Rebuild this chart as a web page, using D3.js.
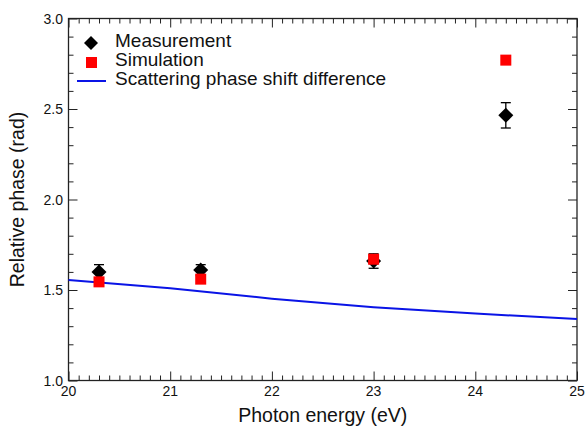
<!DOCTYPE html>
<html>
<head>
<meta charset="utf-8">
<script src="https://cdn.jsdelivr.net/npm/d3@7"></script>
<style>
  html, body { margin: 0; padding: 0; background: #fff; }
  svg { display: block; font-family: "Liberation Sans", Arial, sans-serif; }
</style>
</head>
<body>
<svg id="chart" width="586" height="428"></svg>
<script>
// Photon energies (eV) of the measured / simulated points
const energies = [20.3, 21.3, 23.0, 24.3];
// Measured relative phase (rad) and its uncertainty
const measured = [1.60, 1.61, 1.66, 2.465];
const measuredErr = [0.04, 0.03, 0.04, 0.07];
// Simulated relative phase (rad)
const simulated = [1.545, 1.56, 1.67, 2.77];
// Scattering phase shift difference curve
const curveEnergy = [20, 21, 22, 23, 24, 25];
const curvePhase = [1.555, 1.51, 1.452, 1.405, 1.37, 1.34];
// Axis ticks
const xTicks = [20, 21, 22, 23, 24, 25];
const yTicks = [1.0, 1.5, 2.0, 2.5, 3.0];

const svg = d3.select("#chart");
const m = { left: 68.5, right: 577, top: 18.5, bottom: 380.5 };

const x = d3.scaleLinear().domain([20, 25]).range([m.left, m.right]);
const y = d3.scaleLinear().domain([1.0, 3.0]).range([m.bottom, m.top]);

const axisColor = "#222";
const majorLen = 9, minorLen = 5;
const xMinor = d3.range(200, 251).map(v => v / 10).filter(v => !xTicks.includes(v));
const yMinor = d3.range(10, 31).map(v => v / 10).filter(v => !yTicks.some(t => Math.abs(t - v) < 1e-9));

// Inward ticks on all four sides of the frame
function ticks(axisGen, scaleVals, len, transform) {
  const g = svg.append("g").attr("transform", transform)
    .call(axisGen.tickValues(scaleVals).tickSize(len).tickFormat(""));
  g.select(".domain").remove();
  g.selectAll("line").attr("stroke", axisColor).attr("stroke-width", 1);
}
ticks(d3.axisTop(x), xTicks, majorLen, `translate(0,${m.bottom})`);
ticks(d3.axisTop(x), xMinor, minorLen, `translate(0,${m.bottom})`);
ticks(d3.axisBottom(x), xTicks, majorLen, `translate(0,${m.top})`);
ticks(d3.axisBottom(x), xMinor, minorLen, `translate(0,${m.top})`);
ticks(d3.axisRight(y), yTicks, majorLen, `translate(${m.left},0)`);
ticks(d3.axisRight(y), yMinor, minorLen, `translate(${m.left},0)`);
ticks(d3.axisLeft(y), yTicks, majorLen, `translate(${m.right},0)`);
ticks(d3.axisLeft(y), yMinor, minorLen, `translate(${m.right},0)`);

// Frame
svg.append("rect")
  .attr("x", m.left).attr("y", m.top)
  .attr("width", m.right - m.left).attr("height", m.bottom - m.top)
  .attr("fill", "none").attr("stroke", axisColor).attr("stroke-width", 1.3);

// Tick labels
svg.append("g").selectAll("text").data(xTicks).join("text")
  .attr("x", d => x(d)).attr("y", m.bottom + 15.5)
  .attr("text-anchor", "middle").attr("font-size", 14).attr("fill", "#111")
  .text(d => d);
svg.append("g").selectAll("text").data(yTicks).join("text")
  .attr("x", m.left - 5.5).attr("y", d => y(d) + 5)
  .attr("text-anchor", "end").attr("font-size", 14).attr("fill", "#111")
  .text(d => d.toFixed(1));

// Axis titles
svg.append("text")
  .attr("x", (m.left + m.right) / 2).attr("y", 422)
  .attr("text-anchor", "middle").attr("font-size", 19.5).attr("fill", "#111")
  .text("Photon energy (eV)");
svg.append("text")
  .attr("transform", `translate(24,${(m.top + m.bottom) / 2}) rotate(-90)`)
  .attr("text-anchor", "middle").attr("font-size", 19.5).attr("fill", "#111")
  .text("Relative phase (rad)");

const plot = svg.append("g");

// Scattering phase shift difference
plot.append("path")
  .datum(curveEnergy.map((e, i) => [e, curvePhase[i]]))
  .attr("fill", "none").attr("stroke", "#0a14e6").attr("stroke-width", 2)
  .attr("d", d3.line().x(d => x(d[0])).y(d => y(d[1])));

// Measurement error bars
const meas = energies.map((e, i) => ({ e, v: measured[i], err: measuredErr[i] }));
const eb = plot.append("g").attr("stroke", "#000").attr("stroke-width", 1.3);
meas.forEach(d => {
  eb.append("line").attr("x1", x(d.e)).attr("x2", x(d.e))
    .attr("y1", y(d.v - d.err)).attr("y2", y(d.v + d.err));
  [d.v - d.err, d.v + d.err].forEach(v => {
    eb.append("line").attr("x1", x(d.e) - 5).attr("x2", x(d.e) + 5)
      .attr("y1", y(v)).attr("y2", y(v));
  });
});

const diamond = (cx, cy, r) => `M${cx},${cy - r}L${cx + r},${cy}L${cx},${cy + r}L${cx - r},${cy}Z`;

// Measurement markers
plot.append("g").selectAll("path").data(meas).join("path")
  .attr("d", d => diamond(x(d.e), y(d.v), 7.5)).attr("fill", "#000");

// Simulation markers
const sq = 11;
plot.append("g").selectAll("rect").data(energies.map((e, i) => ({ e, v: simulated[i] }))).join("rect")
  .attr("x", d => x(d.e) - sq / 2).attr("y", d => y(d.v) - sq / 2)
  .attr("width", sq).attr("height", sq).attr("fill", "#ff0000");

// Legend
const lg = svg.append("g").attr("font-size", 19).attr("fill", "#111");
lg.append("path").attr("d", diamond(91, 43, 7)).attr("fill", "#000");
lg.append("text").attr("x", 115).attr("y", 47).text("Measurement");
lg.append("rect").attr("x", 86).attr("y", 57).attr("width", sq).attr("height", sq).attr("fill", "#ff0000");
lg.append("text").attr("x", 115).attr("y", 66).text("Simulation");
lg.append("line").attr("x1", 77).attr("x2", 106).attr("y1", 81).attr("y2", 81)
  .attr("stroke", "#0a14e6").attr("stroke-width", 2);
lg.append("text").attr("x", 115).attr("y", 85).text("Scattering phase shift difference");
</script>
</body>
</html>
